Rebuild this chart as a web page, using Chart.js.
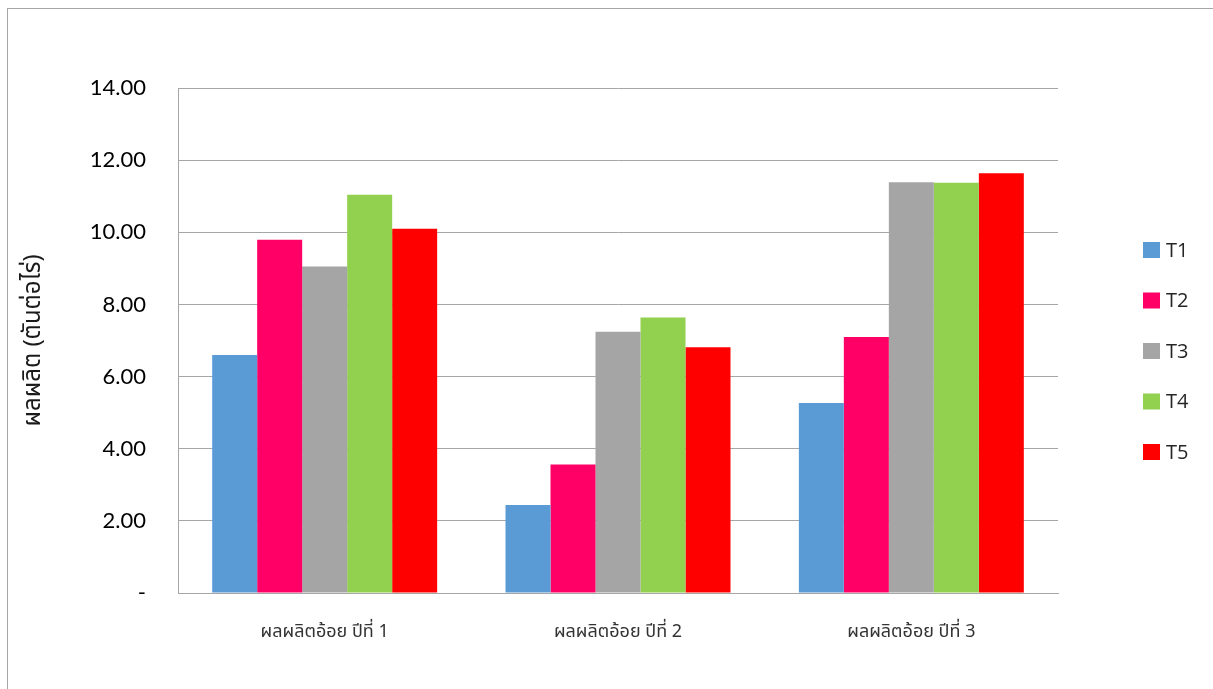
<!DOCTYPE html>
<html>
<head>
<meta charset="utf-8">
<script src="https://cdn.jsdelivr.net/npm/chart.js@4.4.1/dist/chart.umd.min.js"></script>
<style>
  html, body { margin: 0; padding: 0; background: #ffffff; }
  #wrap { position: absolute; left: 0; top: 0; width: 1213px; height: 689px; }
</style>
</head>
<body>
<div id="wrap"><canvas id="c" width="1213" height="689"></canvas></div>
<script>
const categories = ["ผลผลิตอ้อย ปีที่ 1", "ผลผลิตอ้อย ปีที่ 2", "ผลผลิตอ้อย ปีที่ 3"];
const seriesNames = ["T1", "T2", "T3", "T4", "T5"];
const T1 = [6.60, 2.44, 5.27];
const T2 = [9.79, 3.56, 7.10];
const T3 = [9.05, 7.24, 11.39];
const T4 = [11.04, 7.64, 11.37];
const T5 = [10.10, 6.81, 11.64];
const colors = ["#5b9bd5", "#ff0066", "#a5a5a5", "#92d050", "#ff0000"];
const yTicks = [0, 2, 4, 6, 8, 10, 12, 14];
const yTitle = "ผลผลิต (ตันต่อไร่)";

const seriesValues = [T1, T2, T3, T4, T5];
const datasets = seriesNames.map((n, i) => ({
  label: n,
  data: seriesValues[i],
  backgroundColor: colors[i],
  borderWidth: 0,
  categoryPercentage: 0.767,
  barPercentage: 1.0
}));

const frame = {
  id: 'frame',
  beforeDraw(chart) {
    const ctx = chart.ctx;
    ctx.save();
    ctx.fillStyle = '#ffffff';
    ctx.fillRect(0, 0, chart.width, chart.height);
    ctx.strokeStyle = '#a6a6a6';
    ctx.lineWidth = 1;
    ctx.strokeRect(7.5, 8.5, 1400, 1000);
    ctx.restore();
  }
};

const sideLegend = {
  id: 'sideLegend',
  afterDraw(chart) {
    const ctx = chart.ctx;
    ctx.save();
    ctx.font = '20px "Open Sans", "DejaVu Sans", sans-serif';
    ctx.textBaseline = 'middle';
    ctx.textAlign = 'left';
    chart.data.datasets.forEach((ds, i) => {
      const cy = 250 + i * 50.5;
      ctx.fillStyle = ds.backgroundColor;
      ctx.fillRect(1143, cy - 8, 17, 16);
      ctx.fillStyle = '#262626';
      ctx.fillText(ds.label, 1166, cy + 1);
    });
    ctx.restore();
  }
};

new Chart(document.getElementById('c'), {
  type: 'bar',
  data: { labels: categories, datasets },
  options: {
    responsive: false,
    animation: false,
    devicePixelRatio: 1,
    layout: { padding: { left: 0, top: 88, right: 155, bottom: 0 } },
    plugins: {
      legend: { display: false },
      tooltip: { enabled: false }
    },
    scales: {
      x: {
        grid: { display: false, drawTicks: false },
        border: { display: true, color: '#a6a6a6', width: 1 },
        ticks: {
          color: '#333333',
          padding: 30,
          maxRotation: 0,
          font: { family: '"Noto Sans Thai", "Noto Sans", "DejaVu Sans", sans-serif', size: 18 }
        },
        afterFit(scale) { scale.height = 96; }
      },
      y: {
        min: 0,
        max: 14,
        afterBuildTicks(scale) { scale.ticks = yTicks.map(v => ({ value: v })); },
        grid: { color: '#a6a6a6', lineWidth: 1, drawTicks: false },
        border: { display: true, color: '#a6a6a6', width: 1 },
        ticks: {
          color: '#000000',
          padding: 32,
          font: { family: 'Lato, "Open Sans", sans-serif', size: 22 },
          callback: (v) => v === 0 ? '-' : Number(v).toFixed(2)
        },
        title: {
          display: true,
          text: yTitle,
          color: '#1a1a1a',
          padding: { top: 21, bottom: 0 },
          font: { family: '"Noto Sans Thai", "Noto Sans", "DejaVu Sans", sans-serif', size: 24 }
        },
        afterFit(scale) { scale.width = 178; }
      }
    }
  },
  plugins: [frame, sideLegend]
});
</script>
</body>
</html>
